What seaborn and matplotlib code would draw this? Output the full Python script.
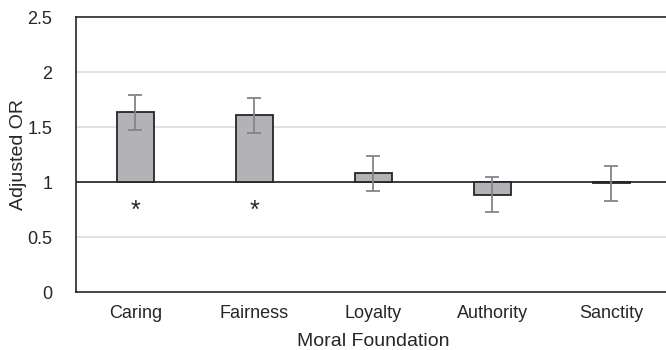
import numpy as np
import pandas as pd
import seaborn as sns
import matplotlib.pyplot as plt

# Adjusted odds ratios per moral foundation, with CI bounds
foundations = ["Caring", "Fairness", "Loyalty", "Authority", "Sanctity"]
odds_ratio = [1.635, 1.607, 1.082, 0.882, 0.988]
ci_low = [1.476, 1.445, 0.921, 0.725, 0.830]
ci_high = [1.794, 1.767, 1.239, 1.043, 1.148]
significant = [True, True, False, False, False]

df = pd.DataFrame({"Foundation": foundations, "OR": odds_ratio})
df["height"] = df["OR"] - 1

sns.set_style("white")
plt.rcParams["font.family"] = ["Liberation Sans", "DejaVu Sans"]

fig = plt.figure(figsize=(6.66, 3.5), dpi=100)
ax = fig.add_axes([0.1141, 0.1657, 0.8934, 0.7857])

# bars grow from the reference line at OR = 1
sns.barplot(data=df, x="Foundation", y="height", bottom=1, width=0.31,
            color="#b3b3b7", edgecolor="#262626", linewidth=1.3,
            saturation=1, ax=ax, zorder=3)

pos = np.arange(len(foundations))
lower = np.array(odds_ratio) - np.array(ci_low)
upper = np.array(ci_high) - np.array(odds_ratio)
ax.errorbar(pos, odds_ratio, yerr=[lower, upper], fmt="none",
            ecolor="#858585", elinewidth=1.3, capsize=5, capthick=1.3, zorder=4)

for i, sig in enumerate(significant):
    if sig:
        ax.text(pos[i], 0.74, "*", ha="center", va="center", fontsize=18,
                color="#262626")

ax.axhline(1, color="#1a1a1a", linewidth=1.2, zorder=2)
for g in [0.5, 1.5, 2]:
    ax.axhline(g, color="#dcdcdc", linewidth=1.2, zorder=0)

ax.set_ylim(0, 2.5)
ax.set_xlim(-0.5, 4.5)
ax.set_yticks([0, 0.5, 1, 1.5, 2, 2.5])
ax.set_yticklabels(["0", "0.5", "1", "1.5", "2", "2.5"])
ax.tick_params(axis="both", length=0, labelsize=13, colors="#262626")
ax.tick_params(axis="x", pad=9)
ax.tick_params(axis="y", pad=17)
ax.set_xlabel("Moral Foundation", fontsize=14, color="#262626")
ax.set_ylabel("Adjusted OR", fontsize=14, color="#262626")
ax.xaxis.set_label_coords(0.5, -0.15)
ax.yaxis.set_label_coords(-0.082, 0.5)

for side in ["left", "top", "bottom"]:
    ax.spines[side].set_color("#262626")
    ax.spines[side].set_linewidth(1.2)
ax.spines["right"].set_visible(False)

fig.savefig("out.png", dpi=100)
